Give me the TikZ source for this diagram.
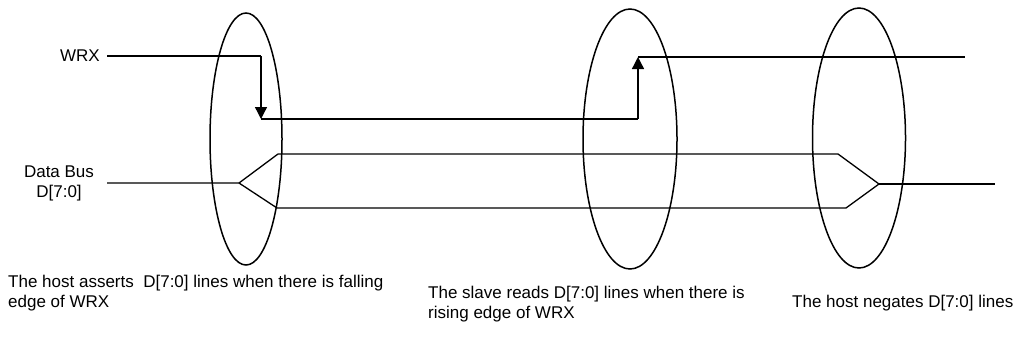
\documentclass[tikz,border=0pt]{standalone}
\usepackage{fontspec}
\setmainfont{Liberation Sans}
\usetikzlibrary{arrows.meta}
\begin{document}
\begin{tikzpicture}[x=1pt,y=-1pt,
  wire/.style={line width=1.3pt, line join=miter},
  sig/.style={wire, -{Triangle[length=12pt,width=12pt]}},
  oval/.style={line width=1.5pt},
  lbl/.style={inner sep=0pt, font=\fontsize{17}{20}\selectfont},
  note/.style={lbl, anchor=base west, align=left}]
\useasboundingbox (0,0) rectangle (1019,343);
% ellipses
\draw[oval] (246,139) ellipse [x radius=36, y radius=126];
\draw[oval] (630,139) ellipse [x radius=47, y radius=130];
\draw[oval] (859,138) ellipse [x radius=46.5, y radius=130];
% WRX
\node[lbl, anchor=east] (wrx) at (100,56) {WRX};
\coordinate (w0) at (107,56);
\coordinate (w1) at (261,56);
\coordinate (w2) at (261,119);
\coordinate (w3) at (638,119);
\coordinate (w4) at (638,57);
\coordinate (w5) at (965,57);
\draw[wire] (w0) -- (w1);
\draw[sig] (w1) -- (w2);
\draw[wire] (w2) -- (w3);
\draw[sig] (w3) -- (w4);
\draw[wire] (w4) -- (w5);
% Data bus
\node[lbl, align=center] (db) at (59,183) {Data Bus\\D[7:0]};
\coordinate (d0) at (107,183);
\coordinate (dl) at (239,183);
\coordinate (dt1) at (278,154);
\coordinate (db1) at (277,208);
\coordinate (dt2) at (838,154);
\coordinate (db2) at (846,208);
\coordinate (dr) at (879,184);
\coordinate (d5) at (995,184);
\draw[wire] (d0) -- (dl) -- (dt1) -- (dt2) -- (dr) -- (db2) -- (db1) -- (dl);
\draw[wire] (dr) -- (d5);
% notes
\node[note] (n1) at (8,307) {The host asserts \ D[7:0] lines when there is falling\\edge of WRX};
\node[note] (n2) at (428,318) {The slave reads D[7:0] lines when there is\\rising edge of WRX};
\node[note] (n3) at (792,307) {The host negates D[7:0] lines};
\end{tikzpicture}
\end{document}
